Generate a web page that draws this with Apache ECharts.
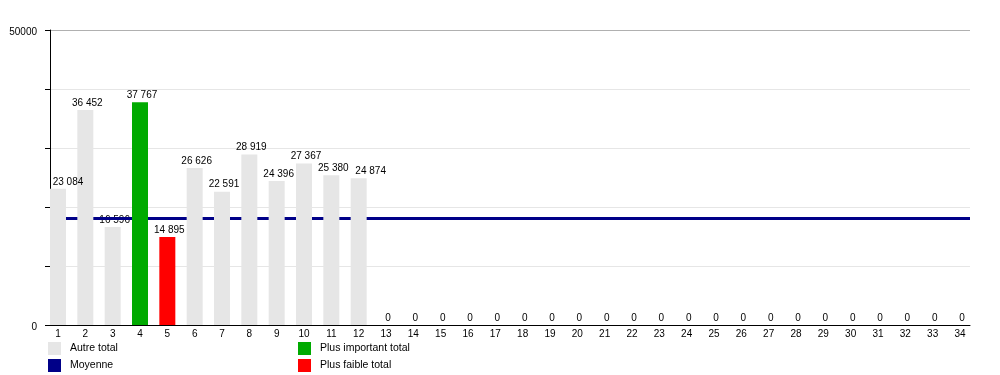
<!DOCTYPE html>
<html>
<head>
<meta charset="utf-8">
<script src="https://cdn.jsdelivr.net/npm/echarts@6/dist/echarts.min.js"></script>
<style>html,body{margin:0;padding:0;background:#fff}#c{width:1000px;height:375px}</style>
</head>
<body>
<div id="c"></div>
<script>
const categories = [1,2,3,4,5,6,7,8,9,10,11,12,13,14,15,16,17,18,19,20,21,22,23,24,25,26,27,28,29,30,31,32,33,34];
const totals = [23084,36452,16596,37767,14895,26626,22591,28919,24396,27367,25380,24874,0,0,0,0,0,0,0,0,0,0,0,0,0,0,0,0,0,0,0,0,0,0];
const moyenne = 18173;
const yTickLabels = [0, 50000];
const seriesNames = ['Autre total','Moyenne','Plus important total','Plus faible total'];

const maxIdx = totals.indexOf(Math.max(...totals));
const nonZero = totals.filter(v => v > 0);
const minIdx = totals.indexOf(Math.min(...nonZero));
const fmt = v => String(v).replace(/\B(?=(\d{3})+(?!\d))/g, ' ');
const FONT = "'Liberation Sans', Arial, sans-serif";

const pairs = (pred) => categories.map((c, i) => [c, pred(i) ? totals[i] : null]);

// label nudges (pixels) to keep labels inside the plot / avoid overlap, as in the original
const labelNudge = {0: 8, 11: 10};

const legendPos = [[48, 342], [48, 359], [298, 342], [298, 359]];
const legends = seriesNames.map((n, k) => ({
  data: [n], left: legendPos[k][0], top: legendPos[k][1], itemWidth: 13, itemHeight: 13, icon: 'rect',
  padding: 0, selectedMode: false,
  textStyle: {fontSize: 10.5, color: '#000', fontFamily: FONT, padding: [0, 0, 0, 4]}
}));

// labels above the mean sit on top of everything; labels below it sit under the mean line
const labelSeries = (pred, z) => ({
  type: 'bar', barWidth: 16, barGap: '-100%', z: z, silent: true,
  data: categories.map((c, i) => {
    const item = {value: [c, pred(i) ? totals[i] : null]};
    if (labelNudge[i] !== undefined) item.label = {offset: [2 + labelNudge[i], 0]};
    return item;
  }),
  itemStyle: {color: 'rgba(0,0,0,0)'},
  label: {show: true, position: 'top', distance: 2, offset: [2, 0], fontSize: 10, color: '#000', fontFamily: FONT,
          formatter: p => fmt(p.value[1])}
});

const chart = echarts.init(document.getElementById('c'), null, {renderer: 'canvas'});
chart.setOption({
  animation: false,
  textStyle: {fontFamily: FONT},
  grid: {left: 50, right: 30, top: 30, bottom: 50, containLabel: false},
  xAxis: {
    type: 'value', min: 0.7073, max: 34.366, splitNumber: 34, minInterval: 1, maxInterval: 1,
    axisLine: {show: true, onZero: false, lineStyle: {color: '#000', width: 1}},
    axisTick: {show: false},
    splitLine: {show: false},
    axisLabel: {
      margin: 4, fontSize: 10, color: '#000', fontFamily: FONT,
      showMinLabel: true, showMaxLabel: true,
      formatter: v => (Math.abs(v - Math.round(v)) < 1e-6 && categories.includes(Math.round(v))) ? String(Math.round(v)) : ''
    }
  },
  yAxis: {
    type: 'value', min: 0, max: 50000, interval: 10000,
    axisLine: {show: true, lineStyle: {color: '#000', width: 1}},
    axisTick: {show: true, length: 5, lineStyle: {color: '#000'}},
    splitLine: {show: true, lineStyle: {color: ['#e6e6e6','#e6e6e6','#e6e6e6','#e6e6e6','#e6e6e6','#b0b0b0'], width: 1}},
    axisLabel: {
      margin: 13, fontSize: 10, color: '#000', fontFamily: FONT, verticalAlign: 'top', padding: [-3, 0, 0, 0],
      formatter: v => yTickLabels.includes(v) ? String(v) : ''
    }
  },
  legend: legends,
  series: [
    Object.assign({name: 'labelsLow'}, labelSeries(i => totals[i] < moyenne, 1)),
    {
      name: seriesNames[1], type: 'line', data: [], z: 2,
      itemStyle: {color: '#000088'},
      markLine: {
        z: 2, symbol: ['none','none'], silent: true, label: {show: false},
        lineStyle: {color: '#000088', width: 3, type: 'solid'},
        data: [{yAxis: moyenne}]
      }
    },
    {
      name: seriesNames[0], type: 'bar', barWidth: 16, barGap: '-100%', z: 4,
      data: pairs(i => i !== maxIdx && i !== minIdx),
      itemStyle: {color: '#e6e6e6'}
    },
    {
      name: seriesNames[2], type: 'bar', barWidth: 16, barGap: '-100%', z: 4,
      data: pairs(i => i === maxIdx),
      itemStyle: {color: '#00aa00'}
    },
    {
      name: seriesNames[3], type: 'bar', barWidth: 16, barGap: '-100%', z: 4,
      data: pairs(i => i === minIdx),
      itemStyle: {color: '#ff0000'}
    },
    Object.assign({name: 'labelsHigh'}, labelSeries(i => totals[i] >= moyenne, 6))
  ]
});
</script>
</body>
</html>
